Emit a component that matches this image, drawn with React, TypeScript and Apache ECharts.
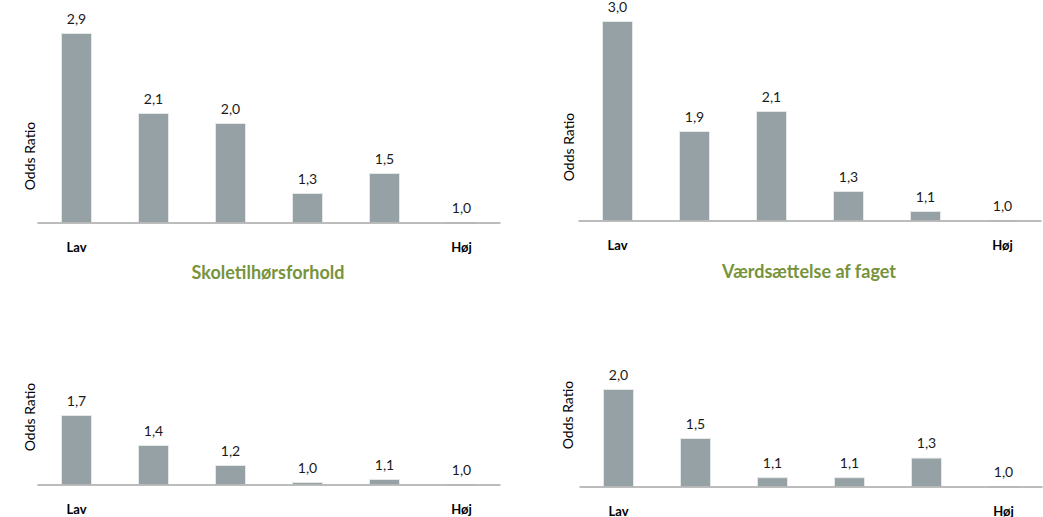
import React, { useEffect, useRef } from "react";
import * as echarts from "echarts";

const categories = ["1", "2", "3", "4", "5", "6"];
const tickLabels = ["Lav", "", "", "", "", "Høj"];
const skoletilhoer = [2.9, 2.1, 2.0, 1.3, 1.5, 1.0];
const vaerdsaettelse = [3.0, 1.9, 2.1, 1.3, 1.1, 1.0];
const bottomLeft = [1.7, 1.4, 1.2, 1.03, 1.06, 1.0];
const bottomRight = [2.0, 1.5, 1.1, 1.1, 1.3, 1.0];
const panelTitles = ["Skoletilhørsforhold", "Værdsættelse af faget"];
const yName = "Odds Ratio";

const FONT = "Lato, 'Open Sans', sans-serif";
const BAR = "#95A1A4";
const GREEN = "#77933C";

// odds ratio reference line (bars grow from OR = 1)
const BASE = 1;

const grids = [
  { left: 38, top: 23, width: 462, height: 200, span: 2 },
  { left: 579, top: 21, width: 462, height: 200, span: 2 },
  { left: 38, top: 385, width: 462, height: 100, span: 1 },
  { left: 580, top: 389, width: 462, height: 100, span: 1 },
];
const seriesData = [skoletilhoer, vaerdsaettelse, bottomLeft, bottomRight];
const yNamePos = [
  [29, 156],
  [568, 147],
  [29, 417],
  [567, 415],
];
const titlePos = [
  [268, 272],
  [809, 271],
];

export default function App() {
  const ref = useRef<HTMLDivElement>(null);
  useEffect(() => {
    if (!ref.current) return;
    const chart = echarts.init(ref.current, undefined, { renderer: "svg" });
    const option: any = {
      animation: false,
      backgroundColor: "#ffffff",
      grid: grids.map((g) => ({
        left: g.left,
        top: g.top,
        width: g.width,
        height: g.height,
        containLabel: false,
      })),
      xAxis: grids.map((g, i) => ({
        type: "category",
        gridIndex: i,
        data: categories,
        z: 5,
        axisLine: { show: true, lineStyle: { color: "#A6A6A6", width: 1.5 } },
        axisTick: { show: false },
        axisLabel: {
          interval: 0,
          margin: 17,
          formatter: (_v: string, idx: number) => tickLabels[idx],
          fontFamily: FONT,
          fontWeight: "bold",
          fontSize: 13,
          color: "#000",
        },
      })),
      yAxis: grids.map((g, i) => ({
        type: "value",
        gridIndex: i,
        min: 0,
        max: g.span,
        show: false,
        splitLine: { show: false },
      })),
      series: seriesData.map((d, i) => ({
        type: "bar",
        xAxisIndex: i,
        yAxisIndex: i,
        data: d.map((v) => +(v - BASE).toFixed(4)),
        barWidth: 31,
        itemStyle: { color: BAR, borderColor: "#E4E8E9", borderWidth: 1 },
        label: {
          show: true,
          position: "top",
          distance: 8,
          fontFamily: FONT,
          fontSize: 14,
          color: "#1a1a1a",
          formatter: (p: any) => d[p.dataIndex].toFixed(1).replace(".", ","),
        },
      })),
      graphic: [
        ...yNamePos.map((p) => ({
          type: "text",
          x: p[0],
          y: p[1],
          rotation: Math.PI / 2,
          style: {
            text: yName,
            fontFamily: FONT,
            fontSize: 14,
            fill: "#000",
            align: "center",
            verticalAlign: "middle",
          },
        })),
        ...titlePos.map((p, i) => ({
          type: "text",
          x: p[0],
          y: p[1],
          style: {
            text: panelTitles[i],
            fontFamily: FONT,
            fontSize: 18,
            fontWeight: "bold",
            fill: GREEN,
            align: "center",
            verticalAlign: "middle",
          },
        })),
      ],
    };
    chart.setOption(option);
    return () => chart.dispose();
  }, []);
  return (
    <div
      ref={ref}
      style={{ position: "fixed", left: 0, top: 0, width: 1043, height: 517 }}
    />
  );
}
